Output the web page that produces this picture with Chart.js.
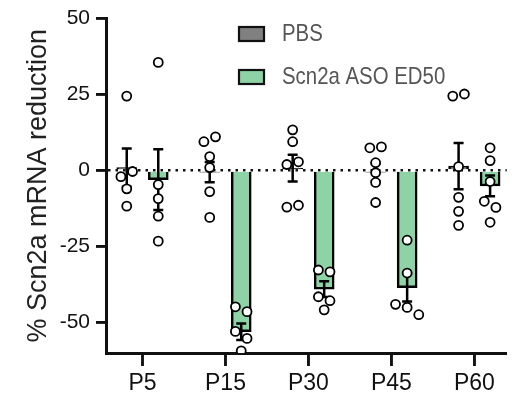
<!DOCTYPE html>
<html>
<head>
<meta charset="utf-8">
<script src="https://cdn.jsdelivr.net/npm/chart.js@4/dist/chart.umd.min.js"></script>
<style>
  html, body { margin: 0; padding: 0; background: #fff; overflow: hidden; }
  #wrap { width: 513px; height: 397px; position: relative; }
</style>
</head>
<body>
<div id="wrap"><canvas id="chart"></canvas></div>
<script>
// values
var categories = ['P5', 'P15', 'P30', 'P45', 'P60'];
var seriesNames = ['PBS', 'Scn2a ASO ED50'];
var yTicks = [-50, -25, 0, 25, 50];

var pbsMean = [1, -0.5, 0.8, -0.5, 1.5];
var pbsSem = [6.3, 3.3, 4.4, 2.9, 7.6];
var asoMean = [-3, -53, -39, -38.5, -5];
var asoSem = [10, 2.7, 2.6, 4.6, 3.4];

var pbsPoints = [
  [24.5, -0.3, -2, -6, -11.7],
  [11.1, 9.5, 4.6, 1, -6.9, -15.4],
  [13.4, 9.5, 2.9, 2, -11.4, -12],
  [7.8, 7.5, 2.6, -0.7, -3.9, -10.5],
  [25.2, 24.5, 1.3, -8.8, -13.4, -18]
];
var asoPoints = [
  [35.6, -4.6, -9.2, -15, -23.2],
  [-44.8, -46.4, -52.9, -55.2, -59.3],
  [-32.7, -33.3, -41.5, -42.8, -45.8],
  [-22.9, -33.7, -44, -45, -47.4],
  [7.5, 3.3, -3.6, -10.1, -12.1, -17]
];

var OFF = 0.19;     // half distance between the two bars of a group (x units)
var JIT = 0.14;     // side step for points that sit too close
var GAP = 2.8;      // values closer than this get spread sideways

// crude beeswarm: neighbours with close values are put side by side
function swarm(vals, center, dir) {
  var sorted = vals.slice().sort(function (a, b) { return b - a; });
  var out = [], group = [];
  function flush() {
    var n = group.length;
    group.forEach(function (v, j) {
      out.push({ x: center + dir * ((n - 1) / 2 - j) * JIT, y: v });
    });
    group = [];
  }
  sorted.forEach(function (v) {
    if (group.length && group[group.length - 1] - v > GAP) flush();
    group.push(v);
  });
  flush();
  return out;
}

var pbsBars = categories.map(function (c, i) { return { x: i - OFF, y: pbsMean[i] }; });
var asoBars = categories.map(function (c, i) { return { x: i + OFF, y: asoMean[i] }; });
var pbsDots = [], asoDots = [];
categories.forEach(function (c, i) {
  pbsDots = pbsDots.concat(swarm(pbsPoints[i], i - OFF, 1));
  asoDots = asoDots.concat(swarm(asoPoints[i], i + OFF, -1));
});

var FONT = "'Liberation Sans', Arial, sans-serif";

// mean +/- SEM whiskers, drawn right after each bar dataset
var errorBars = {
  id: 'errorBars',
  afterDatasetDraw: function (chart, args) {
    var ds = chart.data.datasets[args.index];
    if (!ds.sem) return;
    var ctx = chart.ctx, ys = chart.scales.y;
    ctx.save();
    ctx.strokeStyle = '#000';
    ctx.lineWidth = 2.5;
    args.meta.data.forEach(function (bar, i) {
      var m = ds.data[i].y, s = ds.sem[i];
      var t = ys.getPixelForValue(m + s), b = ys.getPixelForValue(m - s);
      ctx.beginPath();
      ctx.moveTo(bar.x, t); ctx.lineTo(bar.x, b);
      ctx.moveTo(bar.x - 5, t); ctx.lineTo(bar.x + 5, t);
      ctx.moveTo(bar.x - 5, b); ctx.lineTo(bar.x + 5, b);
      ctx.stroke();
    });
    ctx.restore();
  }
};

// outward tick marks on both axes, at the scales' own tick values
var axisTicks = {
  id: 'axisTicks',
  afterDraw: function (chart) {
    var ctx = chart.ctx, xs = chart.scales.x, ys = chart.scales.y;
    ctx.save();
    ctx.strokeStyle = '#111';
    ctx.lineWidth = 2.5;
    ctx.beginPath();
    xs.ticks.forEach(function (t) {
      var px = xs.getPixelForValue(t.value);
      ctx.moveTo(px, xs.top); ctx.lineTo(px, xs.top + 13);
    });
    ys.ticks.forEach(function (t) {
      var py = ys.getPixelForValue(t.value);
      ctx.moveTo(ys.right, py); ctx.lineTo(ys.right - 10, py);
    });
    ctx.stroke();
    ctx.restore();
  }
};

// legend in the upper middle, like the original (text a bit condensed)
var boxLegend = {
  id: 'boxLegend',
  afterDraw: function (chart) {
    var ctx = chart.ctx;
    var rows = [chart.data.datasets[0], chart.data.datasets[1]];
    ctx.save();
    rows.forEach(function (ds, k) {
      var y = 27 + k * 43;
      ctx.fillStyle = ds.backgroundColor;
      ctx.fillRect(239, y, 25, 14);
      ctx.strokeStyle = '#111';
      ctx.lineWidth = 2.2;
      ctx.strokeRect(239, y, 25, 14);
      ctx.save();
      ctx.translate(282, y + 7);
      ctx.scale(0.85, 1);
      ctx.fillStyle = '#555';
      ctx.font = '24px ' + FONT;
      ctx.textBaseline = 'middle';
      ctx.fillText(ds.label, 0, 0);
      ctx.restore();
    });
    ctx.restore();
  }
};

new Chart(document.getElementById('chart'), {
  type: 'bar',
  data: {
    datasets: [
      { type: 'bar', label: seriesNames[0], data: pbsBars, sem: pbsSem,
        backgroundColor: '#808080', borderColor: '#000', borderWidth: 2.5,
        barThickness: 20, grouped: false, order: 2 },
      { type: 'bar', label: seriesNames[1], data: asoBars, sem: asoSem,
        backgroundColor: '#8ed3a5', borderColor: '#000', borderWidth: 2.5,
        barThickness: 20, grouped: false, order: 2 },
      { type: 'scatter', label: 'pbs points', data: pbsDots,
        pointRadius: 4.5, pointBackgroundColor: '#fff', pointBorderColor: '#000',
        pointBorderWidth: 1.8, order: 0 },
      { type: 'scatter', label: 'aso points', data: asoDots,
        pointRadius: 4.5, pointBackgroundColor: '#fff', pointBorderColor: '#000',
        pointBorderWidth: 1.8, order: 0 }
    ]
  },
  options: {
    responsive: true,
    maintainAspectRatio: false,
    animation: false,
    devicePixelRatio: 1,
    layout: { padding: { top: 16, right: 0, bottom: 0, left: 0 } },
    plugins: { legend: { display: false }, tooltip: { enabled: false } },
    scales: {
      x: {
        type: 'linear',
        min: -0.44,
        max: 4.39,
        offset: false,
        afterBuildTicks: function (s) {
          s.ticks = categories.map(function (c, i) { return { value: i }; });
        },
        afterFit: function (s) { s.height = 44; },
        ticks: {
          color: '#111',
          font: { family: FONT, size: 23 },
          padding: 4,
          maxRotation: 0,
          callback: function (v) { return categories[Math.round(v)]; }
        },
        grid: {
          offset: false,
          color: 'rgba(0,0,0,0)',
          tickLength: 13, tickWidth: 2.5, tickColor: '#111'
        },
        border: { color: '#111', width: 3 }
      },
      y: {
        min: -60,
        max: 50,
        afterBuildTicks: function (s) {
          s.ticks = yTicks.map(function (v) { return { value: v }; });
        },
        afterFit: function (s) { s.width = 106; },
        ticks: {
          color: '#111',
          font: { family: FONT, size: 21 },
          padding: 6
        },
        grid: {
          color: function (c) { return c.tick && c.tick.value === 0 ? '#111' : 'rgba(0,0,0,0)'; },
          lineWidth: 2.5,
          tickLength: 10,
          tickWidth: 2.5,
          tickColor: '#111'
        },
        border: { color: '#111', width: 3, dash: [2.5, 5] },
        title: {
          display: true,
          text: '% Scn2a mRNA reduction',
          color: '#222',
          font: { family: FONT, size: 27 },
          padding: { top: 22, bottom: 0 }
        }
      }
    }
  },
  plugins: [errorBars, axisTicks, boxLegend]
});
</script>
</body>
</html>
